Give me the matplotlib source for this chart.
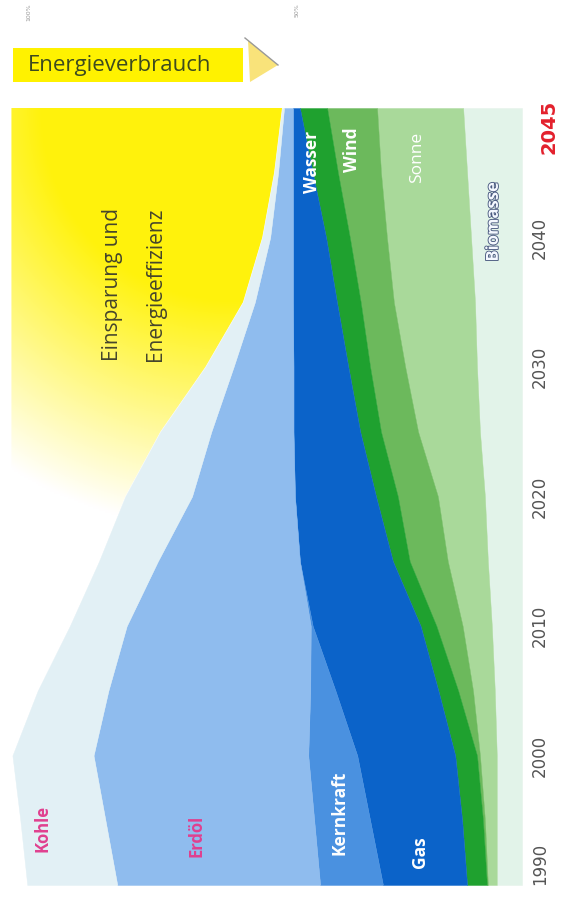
import matplotlib
matplotlib.use("Agg")
import matplotlib.pyplot as plt
import matplotlib.patheffects as pe
from matplotlib.patches import Rectangle, Polygon
import numpy as np

# share of 1990 primary energy use (%)
years = [1990, 1995, 2000, 2005, 2010, 2015, 2020, 2025, 2030, 2035, 2040, 2045, 2050]
biomasse = [5.1, 5.1, 5.1, 5.5, 6.1, 6.9, 7.5, 8.5, 9.1, 9.5, 10.3, 11.1, 11.9]
sonne = [1.8, 2.4, 3.4, 4.4, 5.9, 8.1, 9.5, 12.5, 14.5, 16.4, 17.0, 17.4, 17.4]
wind = [0.2, 0.4, 0.6, 3.0, 5.3, 7.7, 8.1, 7.5, 7.1, 6.7, 7.5, 8.7, 10.1]
wasser = [4.0, 4.2, 4.4, 4.0, 3.2, 3.4, 4.4, 4.2, 4.4, 4.8, 4.8, 5.1, 5.5]
gas = [17.0, 18.6, 19.8, 20.8, 21.8, 18.8, 16.4, 13.5, 11.1, 8.9, 6.7, 4.0, 1.4]
kernkraft = [12.7, 11.3, 9.9, 5.1, 0.4, 0, 0, 0, 0, 0, 0, 0, 0]
erdoel = [41.0, 42.2, 43.4, 40.8, 37.2, 28.7, 20.8, 16.6, 12.1, 7.7, 4.6, 3.0, 1.8]
kohle = [18.2, 17.2, 16.4, 14.3, 11.5, 11.9, 13.5, 10.3, 5.7, 2.4, 1.6, 0.8, 0.4]
savings_edge = 103.2

sources = ["Biomasse", "Sonne", "Wind", "Wasser", "Gas", "Kernkraft", "Erdöl", "Kohle"]
series = [biomasse, sonne, wind, wasser, gas, kernkraft, erdoel, kohle]
colors = ["#e2f3e9", "#a9d99a", "#6cb95c", "#1fa12f", "#0b63c9", "#4a91e0", "#8fbcee", "#e2f0f5"]

year_ticks = [1990, 2000, 2010, 2020, 2030, 2040]

fig = plt.figure(figsize=(5.69, 9.05), dpi=100)
W, H = 569, 905
# chart drawn rotated: years upward, stack grows leftwards from the baseline
ax = fig.add_axes([5 / W, 20 / H, 517 / W, 777 / H])
ax.set_xlim(104.5, 0)
ax.set_ylim(1990, 2050)
ax.axis("off")

y = np.array(years, dtype=float)
base = np.zeros(len(years))
for vals, col in zip(series, colors):
    top = base + np.array(vals)
    ax.fill_betweenx(y, base, top, facecolor=col, edgecolor=col, linewidth=0.3, zorder=2)
    base = top
total = base

# yellow "Einsparung" area with a fading gradient
sav = ax.fill_betweenx(y, total, savings_edge, facecolor="none", edgecolor="none")
nx, ny = 260, 400
gx = np.linspace(104.5, 0, nx)
gy = np.linspace(1990, 2050, ny)
GX, GY = np.meshgrid(gx, gy)
d = np.hypot(GX * 4.95 - 292, (GY - 1990) * 12.95 - 775)
t = np.clip(1 - (d - 190) / 230, 0, 1)
yellow = np.array([1.0, 0.95, 0.05])
rgb = 1 - t[..., None] * (1 - yellow)
im = ax.imshow(rgb, extent=[104.5, 0, 1990, 2050], origin="lower", aspect="auto", zorder=1)
im.set_clip_path(sav.get_paths()[0], transform=ax.transData)
ax.set_xlim(104.5, 0)
ax.set_ylim(1990, 2050)

lab = dict(rotation=90, ha="center", va="center", zorder=5, family=["Open Sans", "DejaVu Sans"])
pink = "#e0408f"
ax.text(97.0, 1994.4, "Kohle", color=pink, fontsize=12, fontweight="bold", **lab)
ax.text(65.7, 1993.8, "Erdöl", color=pink, fontsize=12, fontweight="bold", **lab)
ax.text(36.8, 1995.6, "Kernkraft", color="white", fontsize=12.5, fontweight="bold", **lab)
ax.text(20.6, 1992.5, "Gas", color="white", fontsize=12.5, fontweight="bold", **lab)
ax.text(42.4, 2045.8, "Wasser", color="white", fontsize=12.5, fontweight="bold", **lab)
ax.text(34.3, 2046.8, "Wind", color="white", fontsize=12.5, fontweight="bold", **lab)
ax.text(21.2, 2046.2, "Sonne", color="white", fontsize=12.5, **lab)
ax.text(5.9, 2041.2, "Biomasse", color="#f4f8ff", fontsize=12, fontweight="bold",
        path_effects=[pe.withStroke(linewidth=1.3, foreground="#4a5a80")], **lab)

txt = dict(rotation=90, ha="center", va="bottom", color="#45452c", fontsize=15,
           family=["Open Sans", "DejaVu Sans"], zorder=5)
ax.text(82.8, 2030.5, "Einsparung und", **txt)
ax.text(74.1, 2030.5, "Energieeffizienz", **txt)

# year labels on the right
for yr in year_ticks:
    ax.text(-3.6, yr, str(yr), rotation=90, ha="center", va="bottom" if yr == 1990 else "center",
            color="#555555", fontsize=12, clip_on=False)
ax.text(-5.4, 2050.6, "2045", rotation=90, ha="center", va="top", color="#e3202c",
        fontsize=14, fontweight="bold", clip_on=False)

# "Energieverbrauch" tag with arrow
fig.patches.append(Rectangle((13 / W, 1 - 82 / H), 230 / W, 34 / H, transform=fig.transFigure,
                             facecolor="#fff200", edgecolor="none"))
fig.patches.append(Polygon([(248 / W, 1 - 40 / H), (278 / W, 1 - 65 / H), (250 / W, 1 - 82 / H)],
                           closed=True, transform=fig.transFigure,
                           facecolor="#f9e37a", edgecolor="none"))
fig.lines.append(plt.Line2D([245 / W, 278 / W], [1 - 38 / H, 1 - 65 / H], transform=fig.transFigure,
                            color="#999999", linewidth=1))
fig.text(28 / W, 1 - 65 / H, "Energieverbrauch", ha="left", va="center", fontsize=16,
         color="#3d4b1f", family=["Open Sans", "DejaVu Sans"])

fig.text(29 / W, 1 - 12 / H, "100%", rotation=90, ha="center", va="center", fontsize=4.5, color="#999999")
fig.text(297 / W, 1 - 10 / H, "50%", rotation=90, ha="center", va="center", fontsize=4.5, color="#999999")

fig.savefig("out.png", dpi=100)
